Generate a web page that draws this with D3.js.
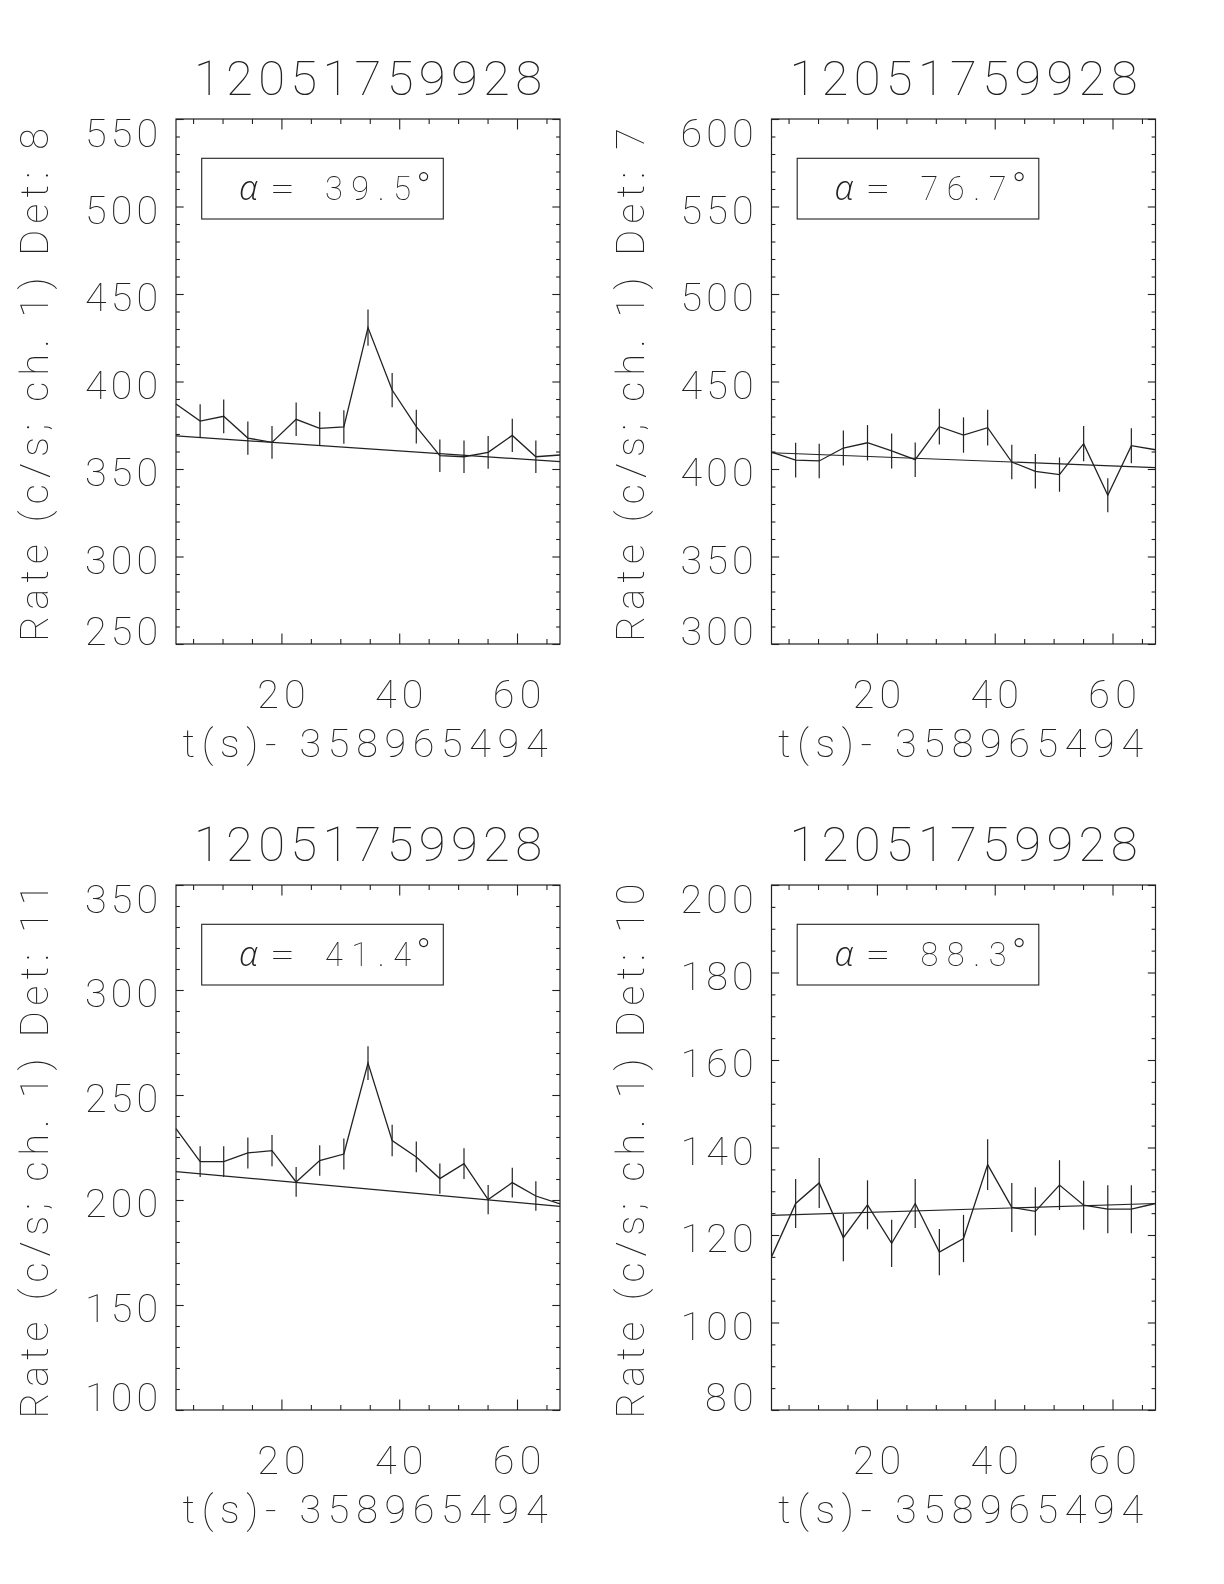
<!DOCTYPE html>
<html>
<head>
<meta charset="utf-8">
<script src="https://cdn.jsdelivr.net/npm/d3@7"></script>
<style>
  html, body { margin: 0; padding: 0; background: #fff; }
  svg { display: block; filter: grayscale(100%); }
  text { font-family: "Roboto", "Lato", "DejaVu Sans", sans-serif; font-weight: 100; fill: #222; }
  .greek { font-family: "Open Sans", "Lato", "Noto Sans", sans-serif; font-weight: 300; font-style: italic; }
</style>
</head>
<body>
<script>
// ---------------- data ----------------
const burstId = "12051759928";
const timeOffset = "358965494";
const detectors = [8, 7, 11, 10];
const alphas = ["39.5", "76.7", "41.4", "88.3"];
const times = [2.1, 6.2, 10.2, 14.3, 18.4, 22.5, 26.5, 30.6, 34.7, 38.8, 42.9, 46.9, 51.0, 55.1, 59.2, 63.2, 67.3];
const xTicks = [20, 40, 60];
const xMinorTicks = [5, 10, 15, 25, 30, 35, 45, 50, 55, 65];

const rateDet8 = [387.1, 377.4, 380.1, 367.7, 365.2, 378.4, 373.2, 374.0, 430.8, 395.1, 374.2, 357.6, 357.0, 359.5, 369.2, 357.0, 358.0];
const errDet8  = [null, 9.6, 9.6, 9.5, 9.4, 9.6, 9.5, 9.6, 10.3, 9.8, 9.6, 9.3, 9.3, 9.4, 9.5, 9.3, null];
const fitDet8  = [368.9, 354.2];
const yRangeDet8 = [250, 550];
const yTicksDet8 = [250, 300, 350, 400, 450, 500, 550];

const rateDet7 = [409.7, 405.1, 404.6, 412.0, 415.0, 410.3, 405.3, 424.2, 419.4, 423.6, 404.0, 398.7, 396.8, 414.5, 385.0, 413.3, 411.0];
const errDet7  = [null, 9.9, 9.9, 10.0, 10.1, 10.0, 9.9, 10.2, 10.1, 10.2, 9.9, 9.9, 9.8, 10.1, 9.7, 10.0, null];
const fitDet7  = [409.3, 400.8];
const yRangeDet7 = [300, 600];
const yTicksDet7 = [300, 350, 400, 450, 500, 550, 600];

const rateDet11 = [234.0, 218.3, 218.3, 222.4, 223.5, 208.6, 218.8, 221.9, 265.2, 228.3, 220.5, 210.2, 217.3, 200.2, 208.3, 201.9, 198.1];
const errDet11  = [null, 7.3, 7.3, 7.4, 7.4, 7.1, 7.3, 7.4, 8.0, 7.5, 7.3, 7.2, 7.3, 7.0, 7.1, 7.0, null];
const fitDet11  = [213.5, 197.0];
const yRangeDet11 = [100, 350];
const yTicksDet11 = [100, 150, 200, 250, 300, 350];

const rateDet10 = [115.0, 127.2, 131.9, 119.4, 126.9, 118.1, 127.2, 116.1, 119.2, 136.1, 126.3, 125.4, 131.4, 126.8, 125.9, 125.9, 127.2];
const errDet10  = [null, 5.6, 5.7, 5.4, 5.6, 5.4, 5.6, 5.3, 5.4, 5.8, 5.6, 5.5, 5.7, 5.6, 5.5, 5.5, null];
const fitDet10  = [124.5, 127.2];
const yRangeDet10 = [80, 200];
const yTicksDet10 = [80, 100, 120, 140, 160, 180, 200];

const panels = [
  {rate: rateDet8,  err: errDet8,  fit: fitDet8,  yRange: yRangeDet8,  yTicks: yTicksDet8,  minorStep: 10},
  {rate: rateDet7,  err: errDet7,  fit: fitDet7,  yRange: yRangeDet7,  yTicks: yTicksDet7,  minorStep: 10},
  {rate: rateDet11, err: errDet11, fit: fitDet11, yRange: yRangeDet11, yTicks: yTicksDet11, minorStep: 10},
  {rate: rateDet10, err: errDet10, fit: fitDet10, yRange: yRangeDet10, yTicks: yTicksDet10, minorStep: 5}
];

// ---------------- layout ----------------
const W = 1224, H = 1584;
const colLeft = [176, 771.5];
const rowTop = [119, 885];
const PW = 384, PH = 525;
const INK = "#222";

const svg = d3.select("body").append("svg").attr("width", W).attr("height", H);
svg.append("rect").attr("width", W).attr("height", H).attr("fill", "#fff");

panels.forEach((p, i) => {
  const L = colLeft[i % 2], T = rowTop[Math.floor(i / 2)];
  const R = L + PW, B = T + PH;
  const x = d3.scaleLinear().domain([times[0], times[times.length - 1]]).range([L, R]);
  const y = d3.scaleLinear().domain(p.yRange).range([B, T]);
  const g = svg.append("g");

  const yMinor = d3.range(p.yRange[0], p.yRange[1] + 0.001, p.minorStep).filter(v => !p.yTicks.includes(v));

  const styleAxis = sel => {
    sel.select(".domain").remove();
    sel.selectAll(".tick line").attr("stroke", INK).attr("stroke-width", 1.1);
    sel.selectAll(".tick text").remove();
  };
  g.append("g").attr("transform", `translate(0,${B})`)
    .call(d3.axisBottom(x).tickValues(xTicks).tickSize(-10.5).tickSizeOuter(0)).call(styleAxis);
  g.append("g").attr("transform", `translate(0,${B})`)
    .call(d3.axisBottom(x).tickValues(xMinorTicks).tickSize(-5).tickSizeOuter(0)).call(styleAxis);
  g.append("g").attr("transform", `translate(0,${T})`)
    .call(d3.axisTop(x).tickValues(xTicks).tickSize(-10.5).tickSizeOuter(0)).call(styleAxis);
  g.append("g").attr("transform", `translate(0,${T})`)
    .call(d3.axisTop(x).tickValues(xMinorTicks).tickSize(-5).tickSizeOuter(0)).call(styleAxis);
  g.append("g").attr("transform", `translate(${L},0)`)
    .call(d3.axisLeft(y).tickValues(p.yTicks).tickSize(-7.7).tickSizeOuter(0)).call(styleAxis);
  g.append("g").attr("transform", `translate(${L},0)`)
    .call(d3.axisLeft(y).tickValues(yMinor).tickSize(-3.9).tickSizeOuter(0)).call(styleAxis);
  g.append("g").attr("transform", `translate(${R},0)`)
    .call(d3.axisRight(y).tickValues(p.yTicks).tickSize(-7.7).tickSizeOuter(0)).call(styleAxis);
  g.append("g").attr("transform", `translate(${R},0)`)
    .call(d3.axisRight(y).tickValues(yMinor).tickSize(-3.9).tickSizeOuter(0)).call(styleAxis);

  g.append("rect").attr("x", L).attr("y", T).attr("width", PW).attr("height", PH)
    .attr("fill", "none").attr("stroke", INK).attr("stroke-width", 1.2);

  // y tick labels
  p.yTicks.forEach(v => {
    const s = String(v);
    const cy = Math.max(T + 14, Math.min(B - 13, y(v) + 3));
    g.append("text").attr("x", L - 18).attr("y", cy + 14)
      .attr("text-anchor", "end").attr("font-size", 39.5)
      .attr("textLength", 24.5 * s.length - 0.5).attr("lengthAdjust", "spacing")
      .text(s);
  });
  // x tick labels
  xTicks.forEach(v => {
    const s = String(v);
    g.append("text").attr("x", x(v)).attr("y", B + 64)
      .attr("text-anchor", "middle").attr("font-size", 39.5)
      .attr("textLength", 24.5 * s.length - 0.5).attr("lengthAdjust", "spacing")
      .text(s);
  });
  // x title
  g.append("text").attr("x", (L + R) / 2 - 3).attr("y", B + 113)
    .attr("text-anchor", "middle").attr("font-size", 39.5)
    .attr("textLength", 365).attr("lengthAdjust", "spacing")
    .text(`t(s)- ${timeOffset}`);
  // y title
  const ytxt = `Rate (c/s; ch. 1) Det: ${detectors[i]}`;
  g.append("text")
    .attr("transform", `translate(${L - 128},${(T + B) / 2 + 3.5}) rotate(-90)`)
    .attr("text-anchor", "middle").attr("font-size", 39.5)
    .attr("textLength", 21.4 * ytxt.length).attr("lengthAdjust", "spacing")
    .text(ytxt);
  // panel title
  g.append("text").attr("x", (L + R) / 2).attr("y", T - 24)
    .attr("text-anchor", "middle").attr("font-size", 49)
    .attr("textLength", 348).attr("lengthAdjust", "spacing")
    .text(burstId);

  // alpha box
  g.append("rect").attr("x", L + 25.7).attr("y", T + 39.3).attr("width", 241.6).attr("height", 60.7)
    .attr("fill", "none").attr("stroke", INK).attr("stroke-width", 1.1);
  const at = g.append("text").attr("y", T + 81).attr("font-size", 32.5);
  at.append("tspan").attr("class", "greek").attr("x", L + 63).attr("font-size", 34).text("α");
  at.append("tspan").attr("x", L + 94).attr("textLength", 25).attr("lengthAdjust", "spacingAndGlyphs").text("=");
  at.append("tspan").text(" ");
  at.append("tspan").attr("x", L + 149).attr("textLength", 86).attr("lengthAdjust", "spacing").text(alphas[i]);
  at.append("tspan").attr("x", L + 240).attr("dy", 1).attr("font-size", 40).text("°");

  // data line
  const pts = times.map((t, k) => [t, p.rate[k]]);
  g.append("path").datum(pts)
    .attr("d", d3.line().x(d => x(d[0])).y(d => y(d[1])))
    .attr("fill", "none").attr("stroke", INK).attr("stroke-width", 1.3);
  // error bars
  times.forEach((t, k) => {
    const e = p.err[k];
    if (e == null) return;
    g.append("line").attr("x1", x(t)).attr("x2", x(t))
      .attr("y1", y(p.rate[k] - e)).attr("y2", y(p.rate[k] + e))
      .attr("stroke", INK).attr("stroke-width", 1.2);
  });
  // fit line
  const fitPts = [[times[0], p.fit[0]], [times[times.length - 1], p.fit[1]]];
  g.append("path").datum(fitPts)
    .attr("d", d3.line().x(d => x(d[0])).y(d => y(d[1])))
    .attr("fill", "none").attr("stroke", INK).attr("stroke-width", 1.2);
});
</script>
</body>
</html>
